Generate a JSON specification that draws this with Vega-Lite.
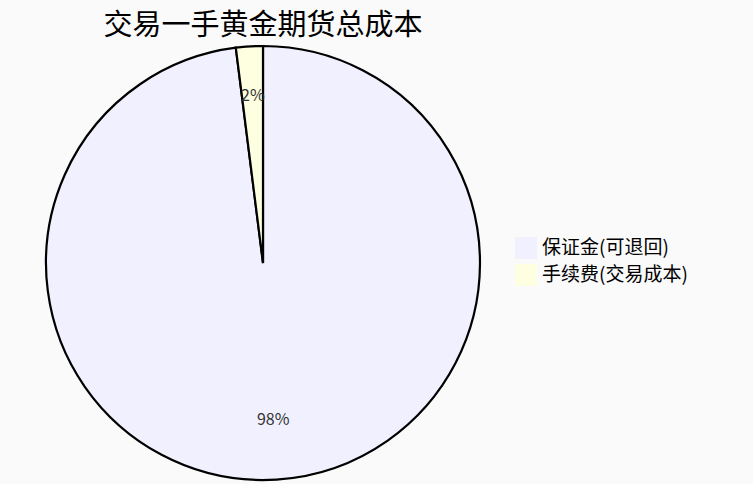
{
  "$schema": "https://vega.github.io/schema/vega-lite/v6.json",
  "autosize": "none",
  "width": 526,
  "height": 442,
  "padding": {"top": 42, "left": 0, "right": 227, "bottom": 0},
  "background": "#fafafa",
  "title": {
    "text": "交易一手黄金期货总成本",
    "anchor": "middle",
    "font": "Noto Sans CJK SC",
    "fontSize": 29,
    "fontWeight": "normal",
    "color": "#000000",
    "offset": 1
  },
  "config": {
    "view": {"stroke": null},
    "font": "Noto Sans CJK SC"
  },
  "data": {
    "values": [
      {"item": "保证金(可退回)", "share": 98, "label": "98%", "rank": 1},
      {"item": "手续费(交易成本)", "share": 2, "label": "2%", "rank": 2}
    ]
  },
  "encoding": {
    "theta": {"field": "share", "type": "quantitative", "stack": true},
    "order": {"field": "rank", "type": "quantitative"}
  },
  "layer": [
    {
      "mark": {"type": "arc", "outerRadius": 217, "stroke": "#000000", "strokeWidth": 2.2},
      "encoding": {
        "color": {
          "field": "item",
          "type": "nominal",
          "sort": ["保证金(可退回)", "手续费(交易成本)"],
          "scale": {"domain": ["保证金(可退回)", "手续费(交易成本)"], "range": ["#f0f0fe", "#fefee0"]},
          "legend": {
            "title": null,
            "orient": "none",
            "legendX": 515,
            "legendY": 195,
            "symbolType": "square",
            "symbolSize": 484,
            "symbolStrokeWidth": 0,
            "labelFontSize": 19,
            "labelColor": "#000000",
            "labelFont": "Noto Sans CJK SC",
            "labelOffset": 5,
            "rowPadding": 5
          }
        }
      }
    },
    {
      "mark": {"type": "text", "radius": 162, "dy": -5, "fontSize": 16, "color": "#333333"},
      "encoding": {
        "text": {"field": "label", "type": "nominal"}
      }
    }
  ]
}
